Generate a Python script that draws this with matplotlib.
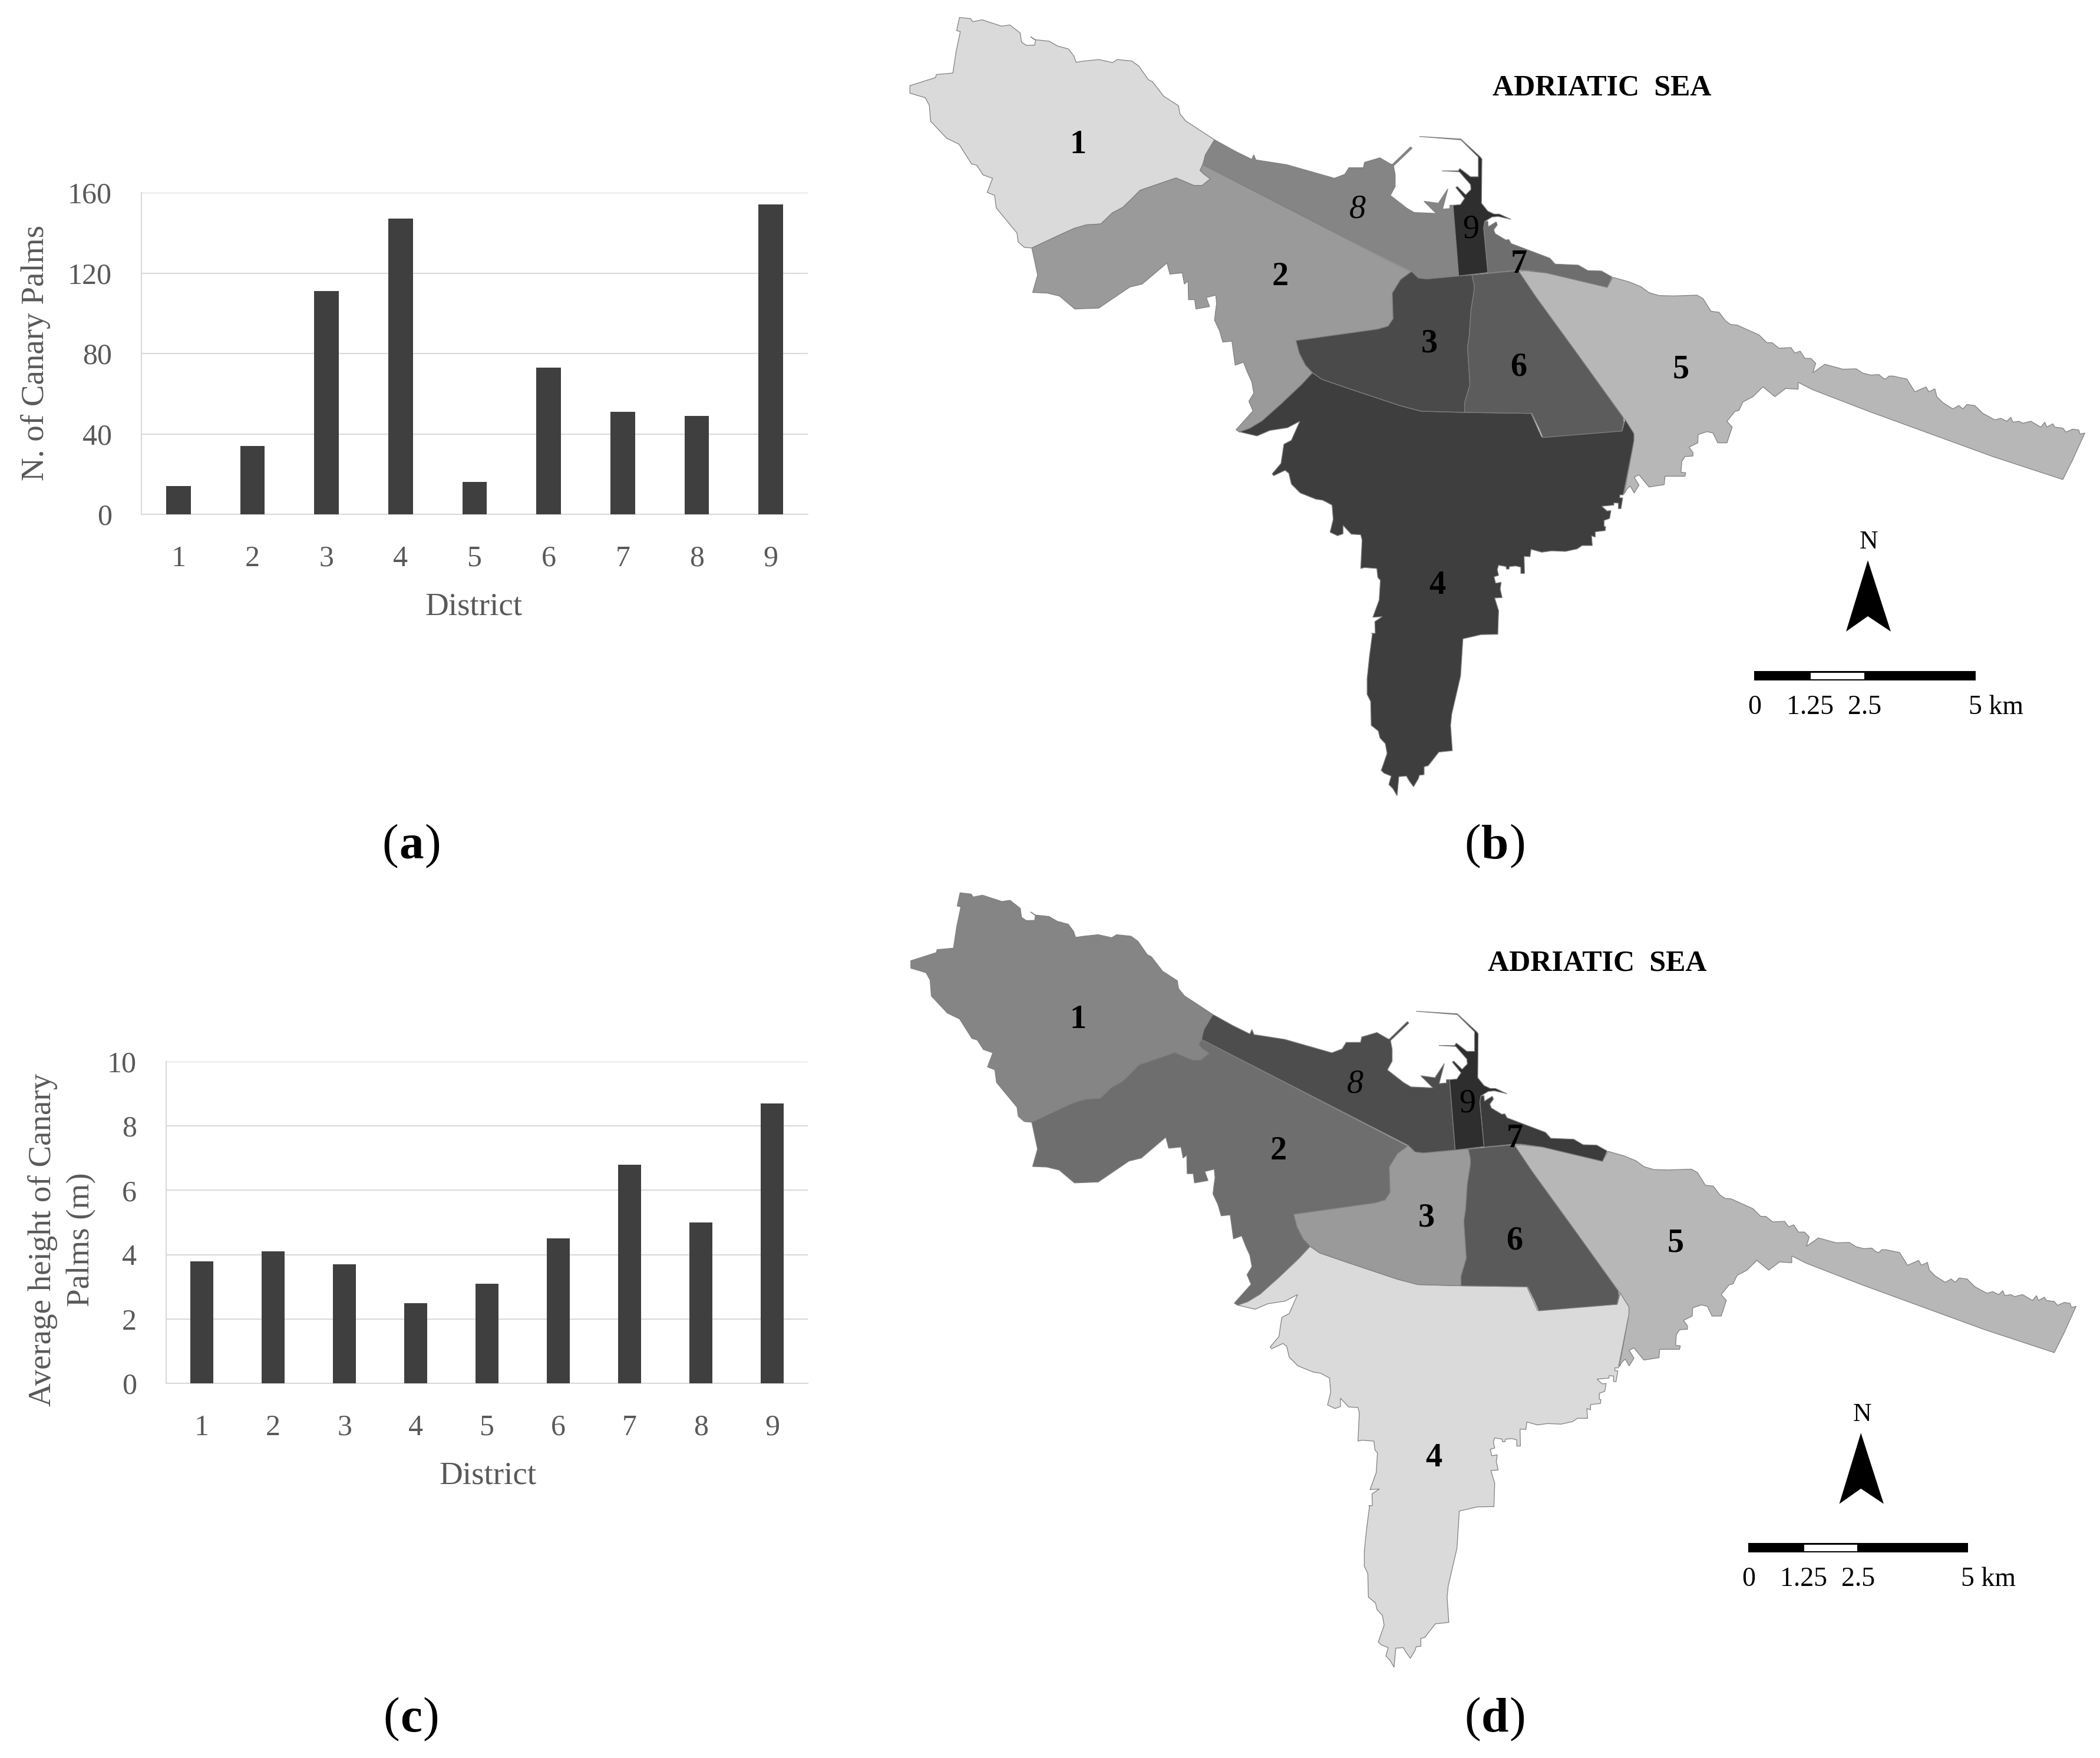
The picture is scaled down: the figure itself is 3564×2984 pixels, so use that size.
import matplotlib
matplotlib.use("Agg")
import matplotlib.pyplot as plt
from matplotlib.patches import Polygon, Rectangle

plt.rcParams["font.family"] = ["Liberation Serif", "DejaVu Serif"]

W, H = 3564, 2984

districts = [1, 2, 3, 4, 5, 6, 7, 8, 9]
palm_counts = [14, 34, 111, 147, 16, 73, 51, 49, 154]
palm_heights = [3.8, 4.1, 3.7, 2.5, 3.1, 4.5, 6.8, 5.0, 8.7]

north_1 = [(183, 58), (210, 62), (215, 72), (238, 66), (285, 87), (305, 83), (330, 110), (333, 140), (345, 151), (365, 150), (367, 133), (355, 122), (365, 132), (400, 137), (420, 153), (447, 163), (460, 187), (465, 207), (485, 203), (520, 198), (553, 208), (565, 198), (600, 203), (617, 220), (640, 265), (650, 272), (677, 320), (713, 352), (716, 378), (730, 402), (800, 465), (778, 515), (772, 545), (765, 567), (775, 580), (790, 595), (770, 617), (750, 617), (707, 592), (620, 633), (597, 665), (578, 690), (553, 708), (525, 745), (490, 748), (460, 760), (420, 785), (358, 825), (340, 823), (325, 805), (322, 775), (272, 692), (268, 650), (250, 640), (263, 593), (240, 582), (225, 550), (212, 545), (182, 480), (152, 460), (113, 403), (110, 350), (100, 325), (63, 310), (63, 285), (125, 258), (127, 248), (167, 243), (175, 170), (185, 105), (176, 102)]
north_2 = [(772, 548), (1275, 905), (1250, 930), (1230, 975), (1232, 1060), (1220, 1085), (1195, 1095), (997, 1133), (1005, 1175), (1020, 1215), (1037, 1240), (1010, 1280), (960, 1345), (915, 1400), (885, 1425), (860, 1437), (852, 1430), (893, 1367), (883, 1335), (895, 1308), (890, 1270), (880, 1240), (870, 1205), (850, 1215), (842, 1135), (820, 1138), (812, 1100), (800, 1065), (802, 1040), (805, 1010), (803, 982), (780, 990), (788, 1020), (755, 1028), (752, 997), (737, 997), (736, 935), (727, 945), (722, 908), (692, 912), (685, 875), (625, 945), (595, 955), (520, 1025), (462, 1028), (425, 985), (395, 975), (360, 973), (372, 915), (365, 870), (358, 825), (420, 785), (460, 760), (490, 748), (525, 745), (553, 708), (578, 690), (597, 665), (620, 633), (707, 592), (750, 617), (770, 617), (790, 595), (775, 580), (765, 567)]
harbour_3 = [(408, 752), (440, 785), (480, 790), (632, 775), (695, 770), (705, 820), (705, 850), (690, 950), (682, 1080)]
north_3 = [(1412, 1155), (1418, 1280), (1405, 1340), (1405, 1372), (1300, 1368), (1250, 1350), (1130, 1295), (1060, 1262), (1037, 1240), (1020, 1215), (1005, 1175), (997, 1133), (1195, 1095), (1220, 1085), (1232, 1060), (1230, 975), (1250, 930)]
north_4 = [(860, 1437), (885, 1425), (915, 1400), (960, 1345), (1010, 1280), (1037, 1240), (1060, 1262), (1130, 1295), (1250, 1350), (1300, 1368), (1405, 1372)]
south_4a = [(600, 108), (618, 192), (755, 170), (760, 130), (775, 180), (775, 205), (757, 395)]
coast_4a = [(1515, 180), (1497, 180), (1497, 195), (1512, 195), (1503, 250), (1490, 250), (1490, 222), (1467, 220), (1467, 232), (1405, 238), (1432, 262), (1452, 260), (1445, 300), (1417, 310), (1417, 340), (1425, 342), (1423, 362), (1372, 368), (1372, 395), (1353, 388), (1357, 438), (1305, 438), (1280, 455), (1220, 468), (1150, 465), (1100, 472), (1045, 457), (1040, 495), (1010, 493), (1012, 580), (993, 580), (993, 548), (968, 542), (935, 545), (933, 558), (920, 558), (918, 545), (880, 538), (873, 560), (880, 590), (857, 597), (865, 630), (893, 625), (888, 660), (898, 703), (860, 705), (880, 770), (876, 890)]
south_4b = [(515, 893), (484, 908), (480, 1040), (465, 1175), (463, 1215), (466, 1305), (443, 1310), (425, 1358), (418, 1362), (418, 1390), (410, 1392), (408, 1405), (400, 1433), (392, 1410), (388, 1395), (375, 1397), (372, 1465), (365, 1440), (358, 1425), (362, 1395), (350, 1385), (345, 1375), (355, 1315), (352, 1280), (343, 1260), (340, 1235), (328, 1215), (327, 1130), (321, 1105), (321, 1050), (325, 970), (330, 890)]
coast_4b = [(233, 885), (252, 885), (250, 825), (288, 800), (240, 803), (272, 715), (278, 615), (265, 600), (260, 555), (198, 550), (178, 555), (185, 410), (178, 383), (130, 380), (88, 335), (88, 378), (60, 388), (22, 370), (38, 305), (32, 232)]
west_4 = [(495, 627), (460, 622), (380, 590), (335, 545), (322, 490), (303, 475), (245, 502), (237, 493), (282, 440), (297, 342), (335, 322), (378, 225), (315, 258), (225, 272), (160, 300), (75, 280)]
east_5 = [(108, 62), (130, 58), (160, 65), (185, 70), (335, 143), (350, 92), (390, 115), (420, 140), (440, 170), (465, 185), (500, 187), (560, 183), (575, 200), (595, 265), (615, 270), (632, 315), (645, 333), (660, 335), (715, 385), (735, 425), (748, 425), (765, 453), (795, 450), (805, 478), (818, 468), (830, 505), (845, 505), (857, 530), (850, 578), (880, 535), (925, 560), (958, 558), (975, 580), (995, 590), (1015, 587), (1025, 605), (1032, 610), (1040, 595), (1050, 595), (1085, 610), (1105, 675), (1133, 650), (1140, 675), (1155, 660), (1160, 700), (1175, 730), (1200, 762), (1215, 745), (1225, 762), (1235, 740), (1255, 745), (1275, 785), (1305, 818), (1320, 810), (1335, 825), (1345, 805), (1350, 830), (1365, 825), (1375, 835), (1395, 825), (1420, 855), (1430, 830), (1435, 855), (1450, 838), (1455, 855), (1475, 860), (1483, 880), (1500, 865), (1515, 870), (1518, 890), (1530, 885), (1500, 1020), (1475, 1122), (1300, 1005), (990, 775), (850, 665), (813, 627), (813, 662), (782, 658), (755, 700), (725, 650), (700, 700), (675, 727), (665, 770), (655, 775), (635, 825), (648, 855), (635, 935), (612, 935), (600, 885), (585, 878), (563, 893), (562, 935), (540, 957), (550, 985), (550, 1002), (530, 1005), (522, 1030), (520, 1085), (532, 1087), (530, 1105), (480, 1105), (478, 1148), (440, 1160), (415, 1098), (403, 1110), (415, 1150), (403, 1190), (393, 1155), (385, 1170), (378, 1195), (400, 950), (400, 880), (378, 815), (375, 805), (260, 480), (160, 200)]
harbour_6 = [(695, 770), (915, 748)]
east_6 = [(160, 200), (260, 480), (375, 805), (377, 830), (372, 875), (175, 908), (165, 860), (147, 785)]
north_6 = [(1405, 1372), (1405, 1340), (1418, 1280), (1412, 1155)]
harbour_6b = [(682, 1080), (690, 950), (705, 850), (705, 820)]
harbour_7 = [(750, 525), (755, 498), (770, 497), (772, 525), (810, 500), (815, 515), (798, 540), (805, 560), (855, 592), (870, 590), (880, 610), (1065, 685), (1090, 715), (1200, 720), (1245, 748), (1310, 750), (1360, 780), (1338, 833), (1050, 760), (950, 745), (915, 745), (770, 760)]
north_8 = [(800, 465), (850, 503), (890, 530), (895, 515), (900, 532), (975, 548), (1090, 593), (1115, 580), (1125, 558), (1160, 558), (1163, 540), (1200, 525), (1225, 545)]
harbour_8 = [(316, 208), (403, 118), (410, 125), (322, 215), (330, 260), (330, 320), (307, 365), (385, 430), (420, 452), (525, 457), (467, 395), (535, 405), (580, 332), (555, 435), (590, 432), (590, 415), (605, 415), (632, 775), (480, 790), (440, 785), (408, 752)]
north_8b = [(772, 548), (778, 515)]
harbour_9 = [(605, 415), (640, 412), (660, 380), (618, 325), (625, 320), (665, 362), (690, 335), (688, 310), (635, 245), (553, 240), (630, 240), (637, 228), (688, 270), (725, 270), (725, 170), (642, 82), (445, 65), (642, 78), (735, 170), (742, 180), (740, 405), (770, 445), (800, 460), (825, 460), (880, 487), (820, 472), (790, 475), (755, 498), (750, 530), (770, 758), (632, 775)]

colors_b = {1: "#dadada", 2: "#9a9a9a", 3: "#4a4a4a", 4: "#3e3e3e", 5: "#b7b7b7", 6: "#5c5c5c", 7: "#6e6e6e", 8: "#858585", 9: "#2e2e2e"}
colors_d = {1: "#858585", 2: "#6e6e6e", 3: "#9a9a9a", 4: "#dadada", 5: "#b7b7b7", 6: "#5a5a5a", 7: "#3c3c3c", 8: "#4d4d4d", 9: "#2e2e2e"}

label_positions = {1: (1830, 246), 2: (2173, 470), 3: (2426, 584), 4: (2439, 994), 5: (2853, 628), 6: (2577, 624), 7: (2578, 449), 8: (2304, 356), 9: (2496, 389)}


def sheet(points, x0, y0, sx, sy):
    return [(x0 + x * sx, y0 + y * sy) for x, y in points]


def north(points):
    return sheet(points, 1500, 0, 1100 / 1568, 800 / 1568)


def south(points):
    return sheet(points, 2000, 650, 1564 / 1568, 750 / 1568)


def harbour(points):
    return sheet(points, 2250, 210, 560 / 1568, 1 / 3)


def east(points):
    return sheet(points, 2500, 440, 1064 / 1568, 1 / 3)


def coast(points):
    return sheet(points, 2250, 780, 1 / 3, 1 / 3)


def west(points):
    return sheet(points, 2080, 640, 1 / 3, 1 / 3)


outlines = {
    1: north(north_1),
    2: north(north_2),
    3: harbour(harbour_3) + north(north_3),
    4: north(north_4) + south(south_4a) + coast(coast_4a) + south(south_4b) + coast(coast_4b) + west(west_4),
    5: east(east_5),
    6: harbour(harbour_6) + east(east_6) + north(north_6) + harbour(harbour_6b),
    7: harbour(harbour_7),
    8: north(north_8) + harbour(harbour_8) + north(north_8b),
    9: harbour(harbour_9),
}


def add_axes_px(fig, left, top, right, bottom):
    return fig.add_axes([left / W, 1 - bottom / H, (right - left) / W, (bottom - top) / H])


def draw_bars(ax, values, ymax, step, width):
    ax.bar(districts, values, width=width, color="#3f3f3f", zorder=3)
    ax.set_xlim(0.5, 9.5)
    ax.set_ylim(0, ymax)
    ax.set_xticks(districts)
    ax.set_yticks(range(0, ymax + 1, step))
    ax.grid(True, axis="y", color="#d9d9d9", linewidth=0.5, zorder=0)
    ax.tick_params(length=0, labelsize=12, labelcolor="#595959")
    ax.tick_params(axis="x", pad=12.5)
    ax.tick_params(axis="y", pad=12)
    for side in ["top", "right"]:
        ax.spines[side].set_visible(False)
    for side in ["left", "bottom"]:
        ax.spines[side].set_color("#d9d9d9")
        ax.spines[side].set_linewidth(0.5)


def draw_map(ax, colors):
    ax.set_xlim(1500, 3564)
    ax.set_ylim(1400, 0)
    ax.axis("off")
    for num in [5, 1, 2, 4, 3, 6, 8, 7, 9]:
        ax.add_patch(Polygon(outlines[num], closed=True, facecolor=colors[num], edgecolor="#808080", linewidth=0.3, joinstyle="miter"))
    for num, (x, y) in label_positions.items():
        style = "italic" if num == 8 else "normal"
        weight = "normal" if num in (8, 9) else "bold"
        ax.text(x, y, str(num), fontsize=13.5, color="black", ha="center", va="center", style=style, fontweight=weight)
    ax.text(2719, 150, "ADRIATIC  SEA", fontsize=12, fontweight="bold", ha="center", va="center")
    # north arrow and scale bar
    ax.text(3172, 920, "N", fontsize=10.5, ha="center", va="center")
    ax.add_patch(Polygon([(3170, 951), (3133, 1072), (3170, 1046), (3209, 1072)], closed=True, facecolor="black", edgecolor="none"))
    ax.add_patch(Rectangle((2977, 1139), 376, 16, facecolor="black", edgecolor="none"))
    ax.add_patch(Rectangle((3073, 1142), 91, 11, facecolor="white", edgecolor="none"))
    for x, txt in [(2978, "0"), (3072, "1.25"), (3165, "2.5"), (3388, "5 km")]:
        ax.text(x, 1201, txt, fontsize=11, ha="center", va="center")


def panel_label(fig, cx, cy, letter):
    size = 20
    renderer = fig.canvas.get_renderer()
    mid = fig.text(cx / W, 1 - cy / H, letter, fontsize=size, fontweight="bold", ha="center", va="center_baseline")
    box = mid.get_window_extent(renderer)
    fig.text(box.x0 / W - 0.0003, 1 - cy / H, "(", fontsize=size, ha="right", va="center_baseline")
    fig.text(box.x1 / W + 0.0003, 1 - cy / H, ")", fontsize=size, ha="left", va="center_baseline")


fig = plt.figure(figsize=(W / 300, H / 300), dpi=300, facecolor="white")

ax_a = add_axes_px(fig, 240, 327, 1371, 873)
draw_bars(ax_a, palm_counts, 160, 40, 0.33)
fig.text(60 / W, 1 - 599 / H, "N. of Canary Palms", rotation=90, fontsize=13.2, color="#595959", ha="center", va="center")
fig.text(804 / W, 1 - 1030 / H, "District", fontsize=13.2, color="#595959", ha="center", va="center")

ax_c = add_axes_px(fig, 282, 1802, 1371, 2348)
draw_bars(ax_c, palm_heights, 10, 2, 0.32)
fig.text(105 / W, 1 - 2104 / H, "Average height of Canary\nPalms (m)", rotation=90, fontsize=13.2, color="#595959", ha="center", va="center", multialignment="center", linespacing=1.4)
fig.text(828 / W, 1 - 2505 / H, "District", fontsize=13.2, color="#595959", ha="center", va="center")

ax_b = add_axes_px(fig, 1500, 0, 3564, 1400)
draw_map(ax_b, colors_b)

ax_d = add_axes_px(fig, 1502, 1486, 3549, 2879)
draw_map(ax_d, colors_d)

for cx, cy, letter in [(698, 1428, "a"), (2537, 1428, "b"), (698, 2910, "c"), (2537, 2910, "d")]:
    panel_label(fig, cx, cy, letter)

fig.savefig("out.png", dpi=300)
plt.close(fig)
